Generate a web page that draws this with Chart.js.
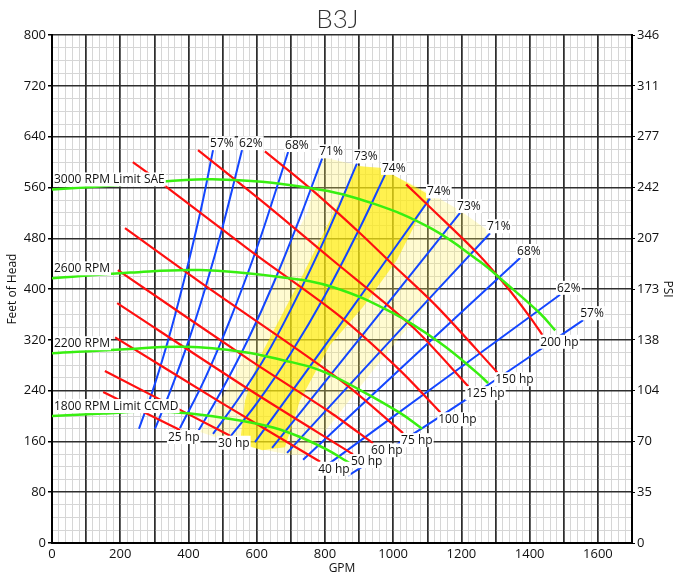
<!DOCTYPE html>
<html lang="en">
<head>
<meta charset="UTF-8">
<title>B3J</title>
<script src="https://cdn.jsdelivr.net/npm/chart.js"></script>
<style>
	body { margin: 0; background: #fff; }
	#wrap { width: 675px; height: 580px; }
</style>
</head>
<body>
<div id="wrap"><canvas id="pump"></canvas></div>
<script>
// speed curves (GPM / feet of head)
const rpmNames = ['3000 RPM Limit SAE', '2600 RPM', '2200 RPM', '1800 RPM Limit CCMD'];
const rpmGpm = [
	[0, 230, 470, 760, 940, 1110, 1255, 1320, 1430, 1475],
	[0, 230, 434, 668, 824, 1000, 1138, 1246, 1278],
	[0, 200, 395, 560, 677, 786, 903, 1020, 1085],
	[0, 150, 287, 405, 551, 648, 727, 806, 860, 885]
];
const rpmHead = [
	[557, 565, 573, 559, 535, 496, 443, 414, 362, 335],
	[417, 426, 430, 419, 403, 362, 315, 268, 252],
	[299, 305, 309, 301, 288, 272, 241, 205, 180],
	[200, 204, 207, 204, 193, 182, 167, 147, 130, 121]
];

// horsepower lines
const hpNames = ['25 hp', '30 hp', '40 hp', '50 hp', '60 hp', '75 hp', '100 hp', '125 hp', '150 hp', '200 hp'];
const hpGpm = [
	[150, 375],
	[155, 522],
	[185, 493, 786],
	[191, 580, 882],
	[193, 580, 815, 941],
	[214, 434, 844, 1029],
	[237, 308, 580, 844, 1020, 1138],
	[428, 639, 815, 1058, 1220],
	[624, 756, 903, 1000, 1129, 1305],
	[1038, 1108, 1246, 1334, 1401, 1437]
];
const hpHead = [
	[238, 178],
	[271, 169],
	[324, 222, 128],
	[378, 241, 140],
	[430, 288, 206, 157],
	[496, 411, 257, 173],
	[600, 572, 461, 357, 272, 206],
	[619, 528, 449, 340, 247],
	[617, 559, 488, 438, 372, 269],
	[565, 529, 457, 403, 356, 328]
];

// efficiency lines, left branch then right branch
const effNames = ['57%', '62%', '68%', '71%', '73%', '74%', '74%', '73%', '71%', '68%', '62%', '57%'];
const effGpm = [
	[255, 300, 350, 400, 440, 472],
	[302, 350, 400, 450, 500, 557],
	[375, 450, 525, 600, 650, 692],
	[425, 500, 575, 650, 725, 792],
	[472, 550, 625, 700, 800, 894],
	[522, 600, 700, 800, 900, 976],
	[595, 850, 1108],
	[645, 921, 1196],
	[689, 985, 1284],
	[736, 1052, 1372],
	[794, 1140, 1489],
	[868, 1211, 1557]
];
const effHead = [
	[180, 248, 338, 442, 534, 619],
	[180, 244, 318, 403, 498, 619],
	[181, 261, 356, 464, 545, 616],
	[173, 243, 321, 410, 510, 606],
	[172, 230, 293, 368, 480, 598],
	[167, 220, 299, 390, 494, 580],
	[159, 348, 543],
	[150, 335, 520],
	[142, 315, 488],
	[131, 290, 449],
	[118, 254, 391],
	[106, 225, 351]
];

// preferred operating zone (outer halo and core)
const zoneOuterGpm = [792, 962, 1041, 1108, 1196, 1284, 1108, 941, 815, 742, 698, 551, 434, 531, 589, 668, 748, 792];
const zoneOuterHead = [608, 587, 569, 551, 524, 490, 383, 272, 186, 139, 139, 154, 175, 257, 335, 441, 520, 608];
const zoneCoreGpm = [894, 962, 1108, 1011, 912, 815, 727, 683, 616, 551, 566, 604, 727, 815, 894];
const zoneCoreHead = [594, 591, 548, 446, 372, 312, 225, 151, 146, 157, 225, 288, 414, 509, 594];

// right axis
const psiLabels = ['0', '35', '70', '104', '138', '173', '207', '242', '277', '311', '346'];

const FONT = '"Open Sans", "Noto Sans", sans-serif';

function pts(xs, ys) {
	return xs.map((x, i) => ({ x: x, y: ys[i] }));
}

const datasets = [];
rpmNames.forEach((n, i) => datasets.push({
	label: n, data: pts(rpmGpm[i], rpmHead[i]),
	borderColor: '#38ef10', borderWidth: 2.5, tension: 0.4,
	tag: { at: 'first', dx: 2, dy: -6 }
}));
hpNames.forEach((n, i) => datasets.push({
	label: n, data: pts(hpGpm[i], hpHead[i]),
	borderColor: '#ff1010', borderWidth: 2.2, tension: 0.3,
	tag: { at: 'last', dx: i < 2 ? -12 : -2, dy: 11 }
}));
effNames.forEach((n, i) => datasets.push({
	label: n, data: pts(effGpm[i], effHead[i]),
	borderColor: '#1446ff', borderWidth: 2, tension: 0.4,
	tag: { at: 'last', dx: -3, dy: -3 }
}));
datasets.push({
	label: 'core', data: pts(zoneCoreGpm, zoneCoreHead),
	borderWidth: 0, fill: 'shape', backgroundColor: 'rgba(255, 236, 0, 0.62)', order: 5
});
datasets.push({
	label: 'halo', data: pts(zoneOuterGpm, zoneOuterHead),
	borderWidth: 0, fill: 'shape', backgroundColor: 'rgba(255, 240, 90, 0.28)', order: 6
});

// text labels with white boxes at the curve ends
const curveLabels = {
	id: 'curveLabels',
	afterDatasetsDraw(chart) {
		const ctx = chart.ctx;
		ctx.save();
		ctx.font = '12px ' + FONT;
		ctx.textBaseline = 'alphabetic';
		chart.data.datasets.forEach((ds, i) => {
			if (!ds.tag) return;
			const els = chart.getDatasetMeta(i).data;
			const p = ds.tag.at === 'first' ? els[0] : els[els.length - 1];
			const w = ctx.measureText(ds.label).width;
			const left = p.x + ds.tag.dx;
			const base = p.y + ds.tag.dy;
			ctx.fillStyle = '#fff';
			ctx.fillRect(left - 1, base - 11, w + 2, 14);
			ctx.fillStyle = '#111';
			ctx.fillText(ds.label, left, base);
		});
		ctx.restore();
	}
};

const major = (v, step) => Math.abs(v % step) < 1e-6;
const tickFont = { family: FONT, size: 13 };

new Chart(document.getElementById('pump'), {
	type: 'line',
	data: { datasets: datasets },
	plugins: [curveLabels],
	options: {
		responsive: true,
		maintainAspectRatio: false,
		animation: false,
		devicePixelRatio: 1,
		elements: { point: { radius: 0 } },
		plugins: {
			legend: { display: false },
			tooltip: { enabled: false },
			title: {
				display: true, text: 'B3J', color: '#333',
				font: { family: 'Lato, ' + FONT, size: 26, weight: '300' },
				padding: { top: 4, bottom: 0 }
			}
		},
		scales: {
			x: {
				type: 'linear', min: 0, max: 1700,
				afterFit(s) { s.height = 37; },
				border: { color: '#000', width: 2 },
				grid: {
					color: c => major(c.tick.value, 100) ? '#2e2e2e' : '#d6d6d6',
					lineWidth: c => major(c.tick.value, 100) ? 1.5 : 1,
					drawTicks: false
				},
				ticks: {
					stepSize: 20, autoSkip: false, maxRotation: 0, padding: 3, color: '#111',
					font: tickFont,
					callback: v => major(v, 200) ? String(v) : ''
				},
				title: { display: true, text: 'GPM', color: '#111', font: { family: FONT, size: 12 }, padding: { top: 0, bottom: 4 } }
			},
			y: {
				type: 'linear', position: 'left', min: 0, max: 800,
				afterFit(s) { s.width = 52; },
				border: { color: '#000', width: 2 },
				grid: {
					color: c => major(c.tick.value, 80) ? '#2e2e2e' : '#d6d6d6',
					lineWidth: c => major(c.tick.value, 80) ? 1.5 : 1,
					tickColor: c => major(c.tick.value, 80) ? '#000' : 'rgba(0,0,0,0)',
					tickLength: 4
				},
				ticks: {
					stepSize: 20, autoSkip: false, padding: 2, color: '#111',
					font: tickFont,
					callback: v => major(v, 80) ? String(v) : ''
				},
				title: { display: true, text: 'Feet of Head', color: '#111', font: { family: FONT, size: 12 }, padding: { top: 5, bottom: 0 } }
			},
			y2: {
				type: 'linear', position: 'right', min: 0, max: 800,
				afterFit(s) { s.width = 43; },
				border: { color: '#000', width: 2 },
				grid: {
					drawOnChartArea: false,
					tickColor: c => major(c.tick.value, 80) ? '#000' : 'rgba(0,0,0,0)',
					tickLength: 3
				},
				ticks: {
					stepSize: 20, autoSkip: false, padding: 2, color: '#111',
					font: tickFont,
					callback: v => major(v, 80) ? psiLabels[Math.round(v / 80)] : ''
				},
				title: { display: true, text: 'PSI', color: '#111', font: { family: FONT, size: 12 }, padding: { top: 0, bottom: 0 } }
			},
			// heavy 100 GPM lines drawn again on top of the light horizontal grid
			xMajor: {
				type: 'linear', position: 'bottom', min: 0, max: 1700,
				afterFit(s) { s.height = 0; },
				border: { display: false },
				grid: { color: '#2e2e2e', lineWidth: 1.5, drawTicks: false },
				ticks: { stepSize: 100, display: false }
			}
		}
	}
});
</script>
</body>
</html>
